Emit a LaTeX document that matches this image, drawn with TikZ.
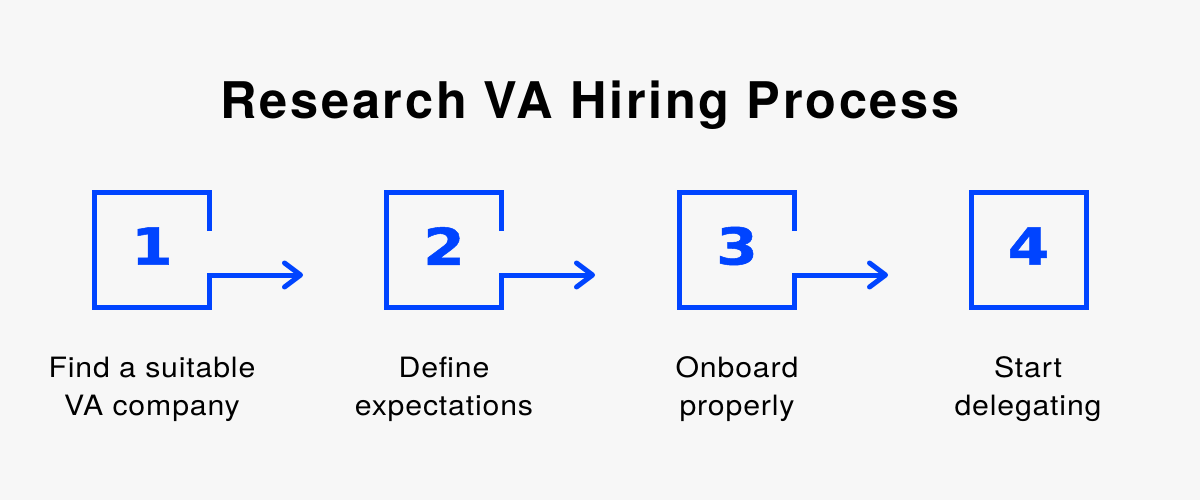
\documentclass[tikz,border=0pt]{standalone}
\usepackage{fontspec}
\setmainfont{TeX Gyre Heros}
\newfontfamily\titlefont[LetterSpace=5.5]{TeX Gyre Heros Bold}
\newfontfamily\labelfont[FakeStretch=1.08,LetterSpace=3]{TeX Gyre Heros}
\newfontfamily\digitfont[FakeStretch=1.18,FakeBold=1]{DejaVu Sans Bold}
\usetikzlibrary{calc}
\definecolor{bg}{HTML}{F7F7F7}
\definecolor{vablue}{HTML}{0044FF}
\tikzset{
  stepframe/.style={draw=none, minimum size=115pt, inner sep=0pt, outer sep=0pt},
  digit/.style={text=vablue, font=\digitfont\fontsize{50.8}{50.8}\selectfont, inner sep=0pt},
  steplabel/.style={align=center, anchor=base, inner sep=0pt, text=black,
    font=\labelfont\fontsize{28}{38}\selectfont},
  blueline/.style={draw=vablue, line width=5pt, line join=miter},
  chevron/.style={draw=vablue, line width=5pt, line cap=round, line join=round},
}
\begin{document}
\begin{tikzpicture}[x=1pt,y=-1pt]
\fill[bg] (0,0) rectangle (1200,500);
\useasboundingbox (0,0) rectangle (1200,500);

\node[font=\titlefont\fontsize{50.5}{50.5}\selectfont, anchor=base, inner sep=0pt] (title) at (590,119) {Research VA Hiring Process};

\foreach \i/\cx in {1/152,2/444,3/737,4/1028.5}{
  \node[stepframe] (b\i) at (\cx,250) {};
  \node[digit] (d\i) at (\cx,246) {\i};
  \coordinate (t\i) at ($(b\i.east)+(91,25)$);
}

\foreach \i in {1,2,3}{
  \draw[blueline] ($(b\i.east)+(0,-19)$) -- (b\i.north east) -- (b\i.north west)
     -- (b\i.south west) -- (b\i.south east) -- ($(b\i.east)+(0,25)$) -- (t\i);
  \draw[chevron] ($(t\i)+(-16,-12)$) -- (t\i) -- ($(t\i)+(-16,12)$);
}
\draw[blueline] (b4.north east) -- (b4.north west) -- (b4.south west) -- (b4.south east) -- cycle;

\node[steplabel] (l1) at (152,415) {Find a suitable\\VA company};
\node[steplabel] (l2) at (444,415) {Define\\expectations};
\node[steplabel] (l3) at (737,415) {Onboard\\properly};
\node[steplabel] (l4) at (1028,415) {Start\\delegating};
\end{tikzpicture}
\end{document}
